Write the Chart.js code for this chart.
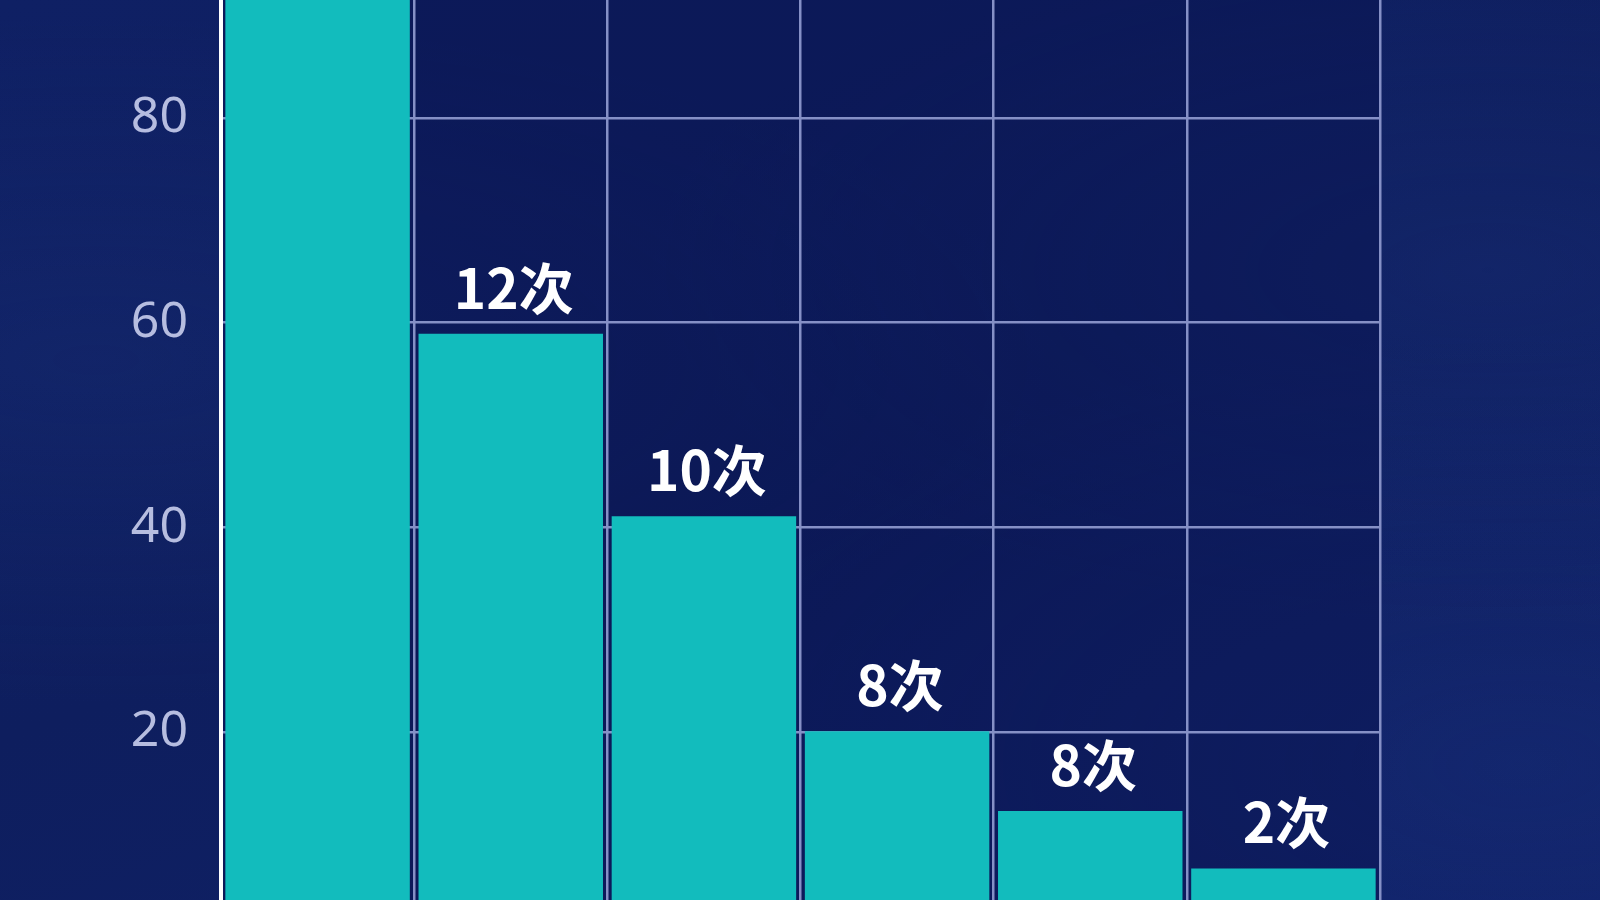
<!DOCTYPE html>
<html>
<head>
<meta charset="utf-8">
<script src="https://cdn.jsdelivr.net/npm/chart.js@4"></script>
<style>
  html, body { margin: 0; padding: 0; width: 1600px; height: 900px; overflow: hidden; }
  body {
    background-color: #0f2063;
    background-image:
      radial-gradient(ellipse at 6% 40%, rgba(30, 55, 130, 0.22), transparent 45%),
      radial-gradient(ellipse at 93% 30%, rgba(30, 55, 130, 0.25), transparent 40%),
      radial-gradient(ellipse at 95% 85%, rgba(30, 55, 130, 0.25), transparent 40%),
      linear-gradient(160deg, #0f2064 0%, #0e1e5e 50%, #10226a 100%);
  }
  #wrap { position: absolute; left: 0; top: -150px; width: 1600px; height: 1150px; }
</style>
</head>
<body>
<div id="wrap"><canvas id="grafico"></canvas></div>
<script>
// datos
const categorias = ["A", "B", "C", "D", "E", "F"];
const valores = [95, 58.9, 41.1, 20.1, 12.3, 6.7];
const etiquetas = ["15次", "12次", "10次", "8次", "8次", "2次"];
const ticksY = [0, 20, 40, 60, 80, 100];

const fondoArea = {
  id: "fondoArea",
  beforeDraw(chart) {
    const { ctx, chartArea } = chart;
    ctx.save();
    ctx.fillStyle = "rgba(8, 18, 78, 0.45)";
    ctx.fillRect(chartArea.left, chartArea.top, chartArea.width, chartArea.height);
    ctx.restore();
  }
};

const etiquetasBarras = {
  id: "etiquetasBarras",
  afterDatasetsDraw(chart) {
    const ctx = chart.ctx;
    const meta = chart.getDatasetMeta(0);
    ctx.save();
    ctx.font = "bold 55px 'Noto Sans CJK SC', 'Noto Sans', sans-serif";
    ctx.fillStyle = "#ffffff";
    ctx.textAlign = "center";
    ctx.textBaseline = "alphabetic";
    meta.data.forEach((bar, i) => {
      ctx.fillText(etiquetas[i], bar.x + 3, bar.y - 25);
    });
    ctx.restore();
  }
};

new Chart(document.getElementById("grafico"), {
  type: "bar",
  data: {
    labels: categorias,
    datasets: [{
      data: valores,
      backgroundColor: "#12bcbd",
      borderWidth: 0,
      barPercentage: 0.955,
      categoryPercentage: 1
    }]
  },
  options: {
    responsive: true,
    maintainAspectRatio: false,
    animation: false,
    layout: { padding: { left: 0, right: 220, top: 62.9, bottom: 59 } },
    plugins: {
      legend: { display: false },
      tooltip: { enabled: false }
    },
    scales: {
      x: {
        display: true,
        afterFit: (s) => { s.height = 0; },
        ticks: { display: false },
        grid: { color: "#8590c6", lineWidth: 2.5, drawTicks: false, offset: true },
        border: { display: false }
      },
      y: {
        min: 0,
        max: 100,
        afterFit: (s) => { s.width = 221; },
        afterBuildTicks: (s) => { s.ticks = ticksY.map(v => ({ value: v })); },
        ticks: {
          color: "#b6bde0",
          padding: 33,
          font: { size: 50, family: "'Noto Sans', sans-serif" },
          callback: (v) => v === 0 || v === 100 ? "" : String(v)
        },
        grid: { color: "#8590c6", lineWidth: 2.5, drawTicks: false },
        border: { color: "#ffffff", width: 4 }
      }
    }
  },
  plugins: [fondoArea, etiquetasBarras]
});
</script>
</body>
</html>
